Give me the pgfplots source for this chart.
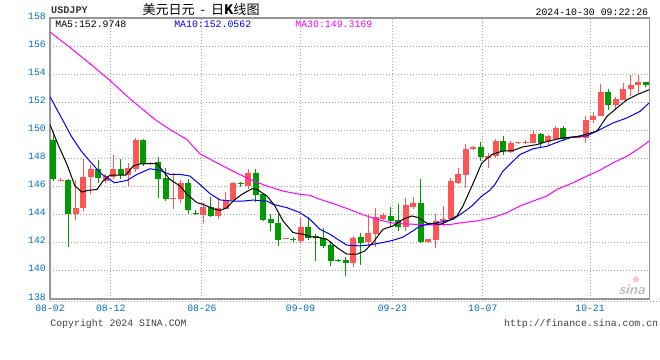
\documentclass[border=0pt]{standalone}
\usepackage{pgfplots}
\pgfplotsset{compat=1.18}
\usepackage{pgfplotstable}
\usepackage{fontspec}
\setmainfont{Liberation Sans}
\setmonofont{Liberation Mono}
\newfontfamily\cjk{Noto Sans CJK SC}
\definecolor{cred}{RGB}{255,85,85}
\definecolor{cgreen}{RGB}{0,155,0}
\definecolor{tickblue}{RGB}{0,112,200}
\definecolor{framegray}{RGB}{150,150,150}
\definecolor{gridgray}{RGB}{165,165,165}
\definecolor{ma10}{RGB}{0,0,255}
\definecolor{ma30}{RGB}{255,0,255}

% rising candles (close > open): x  open  high  low  close
\pgfplotstableread{
x o h l c
1 146.40 146.63 146.38 146.48
3 144.03 146.44 143.63 144.50
4 144.50 147.98 144.26 146.70
5 146.70 147.57 145.45 147.22
7 146.39 146.91 146.28 146.72
8 146.68 148.28 146.51 147.22
10 146.82 147.69 146.04 147.29
11 147.22 149.47 147.03 149.35
13 147.62 147.78 147.55 147.70
16 145.10 146.94 144.38 145.18
17 145.09 146.44 144.86 146.23
20 143.96 144.80 143.39 144.52
22 143.90 145.16 143.72 144.45
23 144.43 145.61 144.38 145.02
24 145.02 146.34 144.95 146.27
26 146.04 147.22 145.80 146.94
31 142.28 142.37 142.27 142.36
33 142.14 143.79 141.96 143.16
40 140.55 142.49 140.30 142.37
42 142.07 143.96 141.78 142.68
43 142.66 144.50 141.73 143.84
44 143.67 144.10 143.63 143.96
47 143.16 145.21 142.85 144.67
48 144.55 145.24 144.39 144.81
50 142.07 142.30 142.00 142.26
51 142.21 144.03 141.66 143.56
52 143.56 144.62 143.20 143.67
53 143.67 146.63 143.60 146.39
54 146.27 147.34 146.22 146.87
55 146.82 149.06 145.92 148.69
56 148.71 148.92 148.60 148.80
58 148.05 148.40 147.34 148.21
59 148.21 149.42 148.00 149.23
61 148.47 149.23 148.40 149.11
62 149.07 149.16 149.06 149.15
63 149.10 149.30 149.05 149.18
64 149.11 150.01 149.11 149.77
66 149.18 149.70 148.92 149.63
67 149.42 150.34 149.35 150.17
69 149.47 149.58 149.46 149.55
70 149.48 149.70 149.47 149.57
71 149.47 151.05 149.11 150.77
72 150.72 151.31 150.53 151.05
73 151.00 153.30 151.00 152.70
75 151.78 152.35 151.43 152.26
76 152.18 153.37 152.15 152.96
77 152.94 153.96 152.42 153.25
78 153.20 153.91 152.66 153.41
}\upcandles

% falling candles (close < open): x  open  high  low  close
\pgfplotstableread{
x o h l c
0 149.35 149.90 146.39 146.51
2 146.50 146.55 141.67 144.03
6 147.22 147.86 146.28 146.58
9 147.22 147.98 146.56 146.82
12 149.35 149.40 147.50 147.62
14 147.74 148.09 145.16 146.51
15 146.58 147.34 145.00 145.09
18 146.23 146.51 144.03 144.34
19 144.13 144.33 143.98 144.04
21 144.52 145.26 143.85 143.90
25 146.27 146.30 145.99 146.16
27 146.94 147.22 144.90 145.40
28 145.45 145.50 143.56 143.63
29 143.67 144.03 142.85 143.44
30 143.44 144.08 141.78 142.21
32 142.27 142.40 142.07 142.18
34 143.16 143.83 142.21 142.37
35 142.49 142.60 140.72 142.33
36 142.33 143.08 141.61 141.78
37 141.85 142.10 140.32 140.72
38 140.77 140.85 140.60 140.69
39 140.77 141.00 139.61 140.55
41 142.42 142.73 140.44 142.02
45 143.91 144.55 143.16 143.56
46 143.63 144.74 142.85 143.13
49 144.81 146.51 142.00 142.07
57 148.80 149.16 147.81 148.12
60 149.23 149.63 148.24 148.52
65 149.77 149.84 148.76 149.11
68 150.17 150.34 149.23 149.42
74 152.70 152.94 151.48 151.78
79 153.41 153.48 153.10 153.20
}\downcandles

\begin{document}
\begin{tikzpicture}
\path[use as bounding box] (0,0) rectangle (495pt,270pt);
\fill[white] (0,0) rectangle (495pt,270pt);

\begin{axis}[
  at={(37.5pt,45.75pt)}, anchor=south west,
  scale only axis, width=449.5pt, height=210.75pt,
  xmin=-0.4, xmax=79.5, ymin=138, ymax=158,
  ytick={138,140,...,158},
  xtick={-0.4,7.7,19.86,33,45.25,57.3,71.6},
  xticklabels={08-02,08-12,08-26,09-09,09-23,10-07,10-21},
  major tick length=0pt,
  grid=major,
  major grid style={gridgray, line width=0.75pt, dash pattern=on 0.75pt off 1.5pt},
  axis line style={framegray, line width=0.9pt},
  /pgf/number format/assume math mode=true,
  tick label style={font=\fontsize{7.3}{8}\selectfont\ttfamily, text=tickblue},
  yticklabel style={anchor=east, inner sep=0pt, xshift=-3pt, yshift=1.6pt},
  xticklabel style={anchor=north, inner sep=0pt, yshift=-4pt},
]
% wicks
\addplot[draw=none, mark=none, forget plot,
  error bars/.cd, y dir=plus, y explicit, error mark=none,
  error bar style={draw=cred, solid, line width=0.75pt}]
  table[x=x, y=l, y error expr=\thisrow{h}-\thisrow{l}] {\upcandles};
\addplot[draw=none, mark=none, forget plot,
  error bars/.cd, y dir=plus, y explicit, error mark=none,
  error bar style={draw=cgreen, solid, line width=0.75pt}]
  table[x=x, y=l, y error expr=\thisrow{h}-\thisrow{l}] {\downcandles};
% bodies
\addplot[draw=none, mark=none, forget plot,
  error bars/.cd, y dir=plus, y explicit, error mark=none,
  error bar style={draw=cred, solid, line width=4.5pt}]
  table[x=x, y=o, y error expr=\thisrow{c}-\thisrow{o}] {\upcandles};
\addplot[draw=none, mark=none, forget plot,
  error bars/.cd, y dir=plus, y explicit, error mark=none,
  error bar style={draw=cgreen, solid, line width=4.5pt}]
  table[x=x, y=c, y error expr=\thisrow{o}-\thisrow{c}] {\downcandles};

% MA30
\addplot[ma30, line width=0.75pt, mark=none] coordinates {
(-0.4,157.0)(2.27,155.9)(4.93,154.75)(7.6,153.55)(10.26,152.25)(13.6,150.77)(15.6,150.06)(17.86,149.35)(19.59,148.33)(21.86,147.69)(23.99,147.1)(26.26,146.51)(28.53,146.04)(30.66,145.68)(32.92,145.45)(34.26,145.38)(35.59,145.09)(37.32,144.8)(39.6,144.36)(41.32,144.0)(43.19,143.67)(44.92,143.44)(46.65,143.35)(48.92,143.3)(50.65,143.28)(52.92,143.3)(54.65,143.44)(56.52,143.56)(58.65,143.79)(60.52,144.15)(62.25,144.62)(63.98,144.97)(65.85,145.33)(67.18,145.8)(69.31,146.27)(71.18,146.75)(72.91,147.17)(74.65,147.69)(76.51,148.16)(78.25,148.76)(79.5,149.25)
};
% MA10
\addplot[ma10, line width=0.75pt, mark=none] coordinates {
(-0.4,152.4)(0.9,151.12)(2.45,149.58)(3.77,148.52)(5.1,147.69)(6.44,146.91)(8.22,146.27)(9.86,146.44)(11.2,146.87)(12.93,147.27)(14.26,147.15)(15.6,146.87)(16.93,146.87)(18.26,146.75)(19.59,146.15)(20.93,145.5)(22.26,145.05)(23.99,144.97)(25.33,144.97)(26.66,145.04)(28.53,144.97)(29.33,144.74)(31.19,144.5)(32.92,144.15)(34.26,143.67)(35.59,142.96)(36.92,142.61)(38.26,142.14)(39.19,141.83)(40.92,141.78)(42.26,141.85)(43.99,142.02)(45.32,142.18)(46.65,142.4)(47.99,142.85)(48.92,143.2)(50.65,143.37)(51.99,143.51)(53.32,143.67)(54.65,144.15)(55.85,144.62)(57.18,145.33)(58.25,145.75)(58.92,146.16)(59.98,147.1)(61.32,147.81)(62.25,148.28)(63.98,148.69)(65.85,148.87)(67.58,149.23)(69.31,149.54)(71.18,149.61)(72.91,150.06)(74.65,150.53)(76.51,150.89)(78.25,151.35)(79.5,151.97)
};
% MA5
\addplot[black, line width=0.75pt, mark=none] coordinates {
(-0.4,150.41)(0.67,149.0)(1.87,147.57)(2.93,146.04)(3.87,145.61)(4.67,145.73)(5.87,145.8)(6.66,146.39)(7.6,146.82)(9.73,146.82)(10.66,147.46)(11.6,147.62)(13.86,147.64)(14.66,147.1)(15.6,146.51)(16.93,146.04)(17.86,145.45)(19.19,144.86)(19.99,144.74)(21.33,144.43)(22.26,144.3)(23.19,144.5)(23.99,144.97)(25.19,145.45)(26.53,145.85)(27.19,145.8)(28.53,145.33)(29.59,144.62)(30.66,143.56)(31.99,142.73)(33.32,142.61)(34.26,142.44)(35.59,142.37)(36.52,142.25)(37.86,141.66)(39.19,141.19)(40.52,141.19)(41.59,141.42)(42.66,142.02)(43.99,142.96)(45.32,143.2)(46.65,143.67)(47.85,143.91)(48.65,143.8)(49.85,143.39)(51.59,143.32)(52.52,143.51)(53.85,143.91)(54.65,144.62)(55.85,146.04)(57.18,147.69)(58.51,148.28)(59.85,148.52)(61.32,148.57)(62.65,148.83)(64.52,148.99)(65.98,149.23)(67.98,149.47)(69.85,149.54)(71.31,149.77)(72.51,149.94)(73.85,151.0)(75.18,151.6)(76.51,152.18)(77.85,152.54)(79.5,152.9)
};
\end{axis}

% dotted separator under the axis
\draw[gridgray, line width=0.75pt, dash pattern=on 0.75pt off 1.5pt] (37.5pt,44.2pt) -- (495pt,44.2pt);

% header
\node[anchor=west, inner sep=0pt, font=\fontsize{7.6}{8}\selectfont\ttfamily\bfseries, text=black!80] at (38.2pt,262.3pt) {USDJPY};
\node[inner sep=0pt, font=\fontsize{9.8}{10}\selectfont\cjk] at (150.8pt,262.5pt) {美元日元\ \ -\ \ 日\textbf{K}线图};
\node[anchor=east, inner sep=0pt, font=\fontsize{7.4}{8}\selectfont\ttfamily] at (486.3pt,261pt) {2024-10-30 09:22:26};

% MA legend
\node[anchor=west, inner sep=0pt, font=\fontsize{7.4}{8}\selectfont\ttfamily, text=black] at (41.3pt,252pt) {MA5:152.9748};
\node[anchor=west, inner sep=0pt, font=\fontsize{7.4}{8}\selectfont\ttfamily, text=ma10] at (130.5pt,252pt) {MA10:152.0562};
\node[anchor=west, inner sep=0pt, font=\fontsize{7.4}{8}\selectfont\ttfamily, text=ma30] at (221.3pt,252pt) {MA30:149.3169};

% watermark
\node[font=\fontsize{11}{12}\selectfont\sffamily\bfseries\itshape, text=black!25] at (474pt,52.5pt) {sina};
\fill[cred!35] (477pt,60.5pt) circle (2.2pt);

% footer
\node[anchor=west, inner sep=0pt, font=\fontsize{7.4}{8}\selectfont\ttfamily, text=black!75] at (37.6pt,27.2pt) {Copyright 2024 SINA.COM};
\node[anchor=east, inner sep=0pt, font=\fontsize{7.4}{8}\selectfont\ttfamily, text=black!75] at (493.8pt,27.2pt) {http://finance.sina.com.cn};
\end{tikzpicture}
\end{document}
